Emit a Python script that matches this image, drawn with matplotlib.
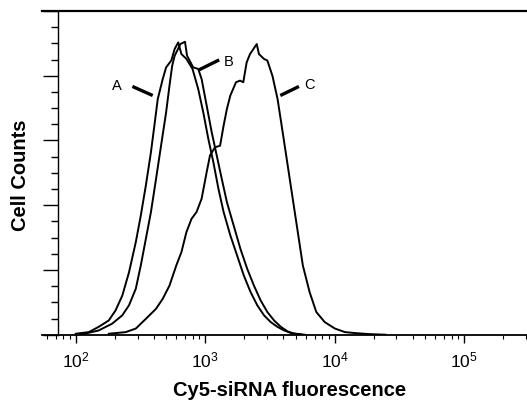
import numpy as np
import matplotlib
matplotlib.use("Agg")
import matplotlib.pyplot as plt
from matplotlib.ticker import LogLocator, MultipleLocator, NullFormatter

plt.rcParams['font.family'] = ['Liberation Sans', 'DejaVu Sans']
plt.rcParams['mathtext.default'] = 'regular'

# flow cytometry histograms: Cy5-siRNA fluorescence vs cell counts
fl_a = [100, 126, 150, 180, 203, 229, 258, 291, 318, 348, 381, 405, 430, 470,
        499, 547, 581, 619, 655, 716, 798, 883, 966, 1057, 1156, 1265, 1387,
        1563, 1762, 1986, 2239, 2523, 2844, 3206, 3622, 4083, 4603, 5508]
counts_a = [0.3, 0.8, 2.4, 4.4, 7.5, 12.1, 19.3, 28.6, 36.8, 46.1, 56.4, 64.6,
            72.8, 79.0, 82.6, 84.7, 88.3, 90.3, 86.7, 85.2, 82.1, 75.9, 68.7,
            60.5, 53.3, 45.1, 37.9, 30.7, 24.5, 18.3, 13.2, 9.1, 6.0, 3.9,
            2.4, 1.3, 0.5, 0.1]

fl_b = [111, 150, 191, 229, 258, 291, 318, 348, 381, 417, 456, 499, 530, 556,
        581, 617, 643, 698, 724, 807, 883, 938, 1026, 1122, 1227, 1343, 1472,
        1660, 1871, 2109, 2377, 2679, 3020, 3404, 3846, 4335, 4887, 5848]
counts_b = [0.1, 1.3, 3.4, 6.0, 9.1, 14.2, 21.4, 29.6, 37.9, 48.1, 58.4, 68.7,
            77.0, 83.1, 86.2, 88.3, 89.8, 90.5, 86.2, 82.6, 82.1, 79.0, 70.8,
            62.6, 55.4, 48.1, 40.9, 33.7, 26.5, 20.4, 15.2, 10.6, 7.0, 4.4,
            2.4, 1.0, 0.3, 0.0]

fl_c = [180, 243, 291, 348, 417, 470, 530, 598, 655, 716, 784, 857, 938, 1026,
        1089, 1191, 1303, 1387, 1472, 1563, 1730, 1857, 1968, 2089, 2218, 2500,
        2600, 2844, 3020, 3304, 3622, 3963, 4335, 4742, 5188, 5675, 6397, 7211,
        8375, 10040, 12020, 14390, 18280, 24660]
counts_c = [0.3, 0.8, 1.9, 4.9, 8.0, 11.1, 15.2, 21.4, 25.5, 31.7, 35.8, 37.9,
            42.0, 50.2, 55.4, 57.9, 58.4, 64.6, 69.8, 73.9, 78.0, 78.5, 78.0,
            84.1, 86.7, 89.8, 86.7, 85.2, 84.7, 80.0, 72.8, 62.6, 52.3, 42.0,
            31.7, 21.4, 13.2, 7.0, 3.9, 1.9, 0.8, 0.5, 0.2, 0.0]

curve_names = ['A', 'B', 'C']

fig = plt.figure(figsize=(5.27, 4.02), dpi=100)
ax = fig.add_axes([0.0797, 0.1649, 0.9203, 0.8052])

for fl, cnt in [(fl_a, counts_a), (fl_b, counts_b), (fl_c, counts_c)]:
    ax.plot(fl, cnt, color='black', lw=1.4)

ax.set_xscale('log')
ax.set_xlim(54.9, 305600)
ax.set_ylim(0, 100)

# y axis drawn inside the frame, ticks pointing outward
ax.spines['left'].set_position(('data', 72.6))
ax.spines['right'].set_visible(False)
ax.spines['top'].set_linewidth(1.6)
ax.spines['bottom'].set_linewidth(1.3)
ax.spines['left'].set_linewidth(1.0)

ax.yaxis.set_major_locator(MultipleLocator(20))
ax.yaxis.set_minor_locator(MultipleLocator(5))
ax.yaxis.set_major_formatter(NullFormatter())
ax.tick_params(axis='y', which='major', direction='out', length=10.8, width=1.0)
ax.tick_params(axis='y', which='minor', direction='out', length=5, width=1.0)

ax.xaxis.set_major_locator(LogLocator(base=10, numticks=10))
ax.xaxis.set_minor_locator(LogLocator(base=10, subs=np.arange(2, 10), numticks=20))
ax.xaxis.set_minor_formatter(NullFormatter())
ax.tick_params(axis='x', which='major', direction='out', length=6, width=1.0,
               labelsize=12.5, pad=5)
ax.tick_params(axis='x', which='minor', direction='out', length=3, width=0.8)

# curve labels with leader lines
label_lines = [((274, 393), (76.7, 73.9)),
               ((893, 1282), (81.8, 84.9)),
               ((3802, 5297), (73.9, 76.7))]
label_pos = [(209, 77.0), (1517, 84.7), (6412, 77.5)]
for name, (lx, ly), (tx, ty) in zip(curve_names, label_lines, label_pos):
    ax.plot(lx, ly, color='black', lw=2.4, solid_capstyle='butt')
    ax.text(tx, ty, name, fontsize=10.5, ha='center', va='center')

ax.set_xlabel('Cy5-siRNA fluorescence', fontsize=14.5, fontweight='bold',
              va='center')
ax.xaxis.set_label_coords(0.511, -0.168)
fig.text(21 / 527, 1 - 175 / 402, 'Cell Counts', rotation=90, fontsize=14.5,
         fontweight='bold', ha='center', va='center')

fig.savefig('out.png', dpi=100)
